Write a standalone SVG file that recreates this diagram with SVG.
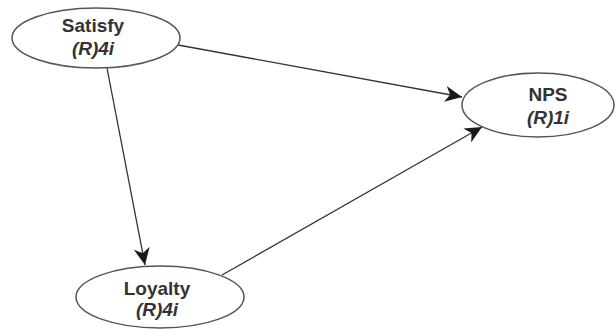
<svg xmlns="http://www.w3.org/2000/svg" width="615" height="329" viewBox="0 0 615 329">
<style>
.node ellipse{fill:#fff;stroke:#555;stroke-width:1.5}
.t{font-family:"Liberation Sans",Arial,sans-serif;font-size:19px;font-weight:bold;fill:#333;text-anchor:middle}
.s{font-style:italic}
.edge{stroke:#333;stroke-width:1.3;fill:none;marker-end:url(#ah)}
</style>
<defs>
<marker id="ah" markerUnits="userSpaceOnUse" markerWidth="18" markerHeight="16" refX="17" refY="8" orient="auto">
<path d="M0,0 L17,8 L0,16 L5,8 z" fill="#1a1a1a"/>
</marker>
</defs>
<g id="connectors">
<line class="edge" x1="178" y1="45" x2="462" y2="97"/>
<line class="edge" x1="107" y1="68" x2="145" y2="265"/>
<line class="edge" x1="222" y1="275" x2="482" y2="127"/>
</g>
<g id="satisfy" class="node">
<ellipse cx="96" cy="38" rx="84" ry="30"/>
<text class="t" x="93" y="32">Satisfy</text>
<text class="t s" x="93" y="55">(R)4i</text>
</g>
<g id="nps" class="node">
<ellipse cx="538" cy="105" rx="76" ry="32"/>
<text class="t" x="548" y="101">NPS</text>
<text class="t s" x="548" y="124">(R)1i</text>
</g>
<g id="loyalty" class="node">
<ellipse cx="160" cy="297" rx="84" ry="31"/>
<text class="t" x="157" y="295">Loyalty</text>
<text class="t s" x="157" y="316">(R)4i</text>
</g>
</svg>
